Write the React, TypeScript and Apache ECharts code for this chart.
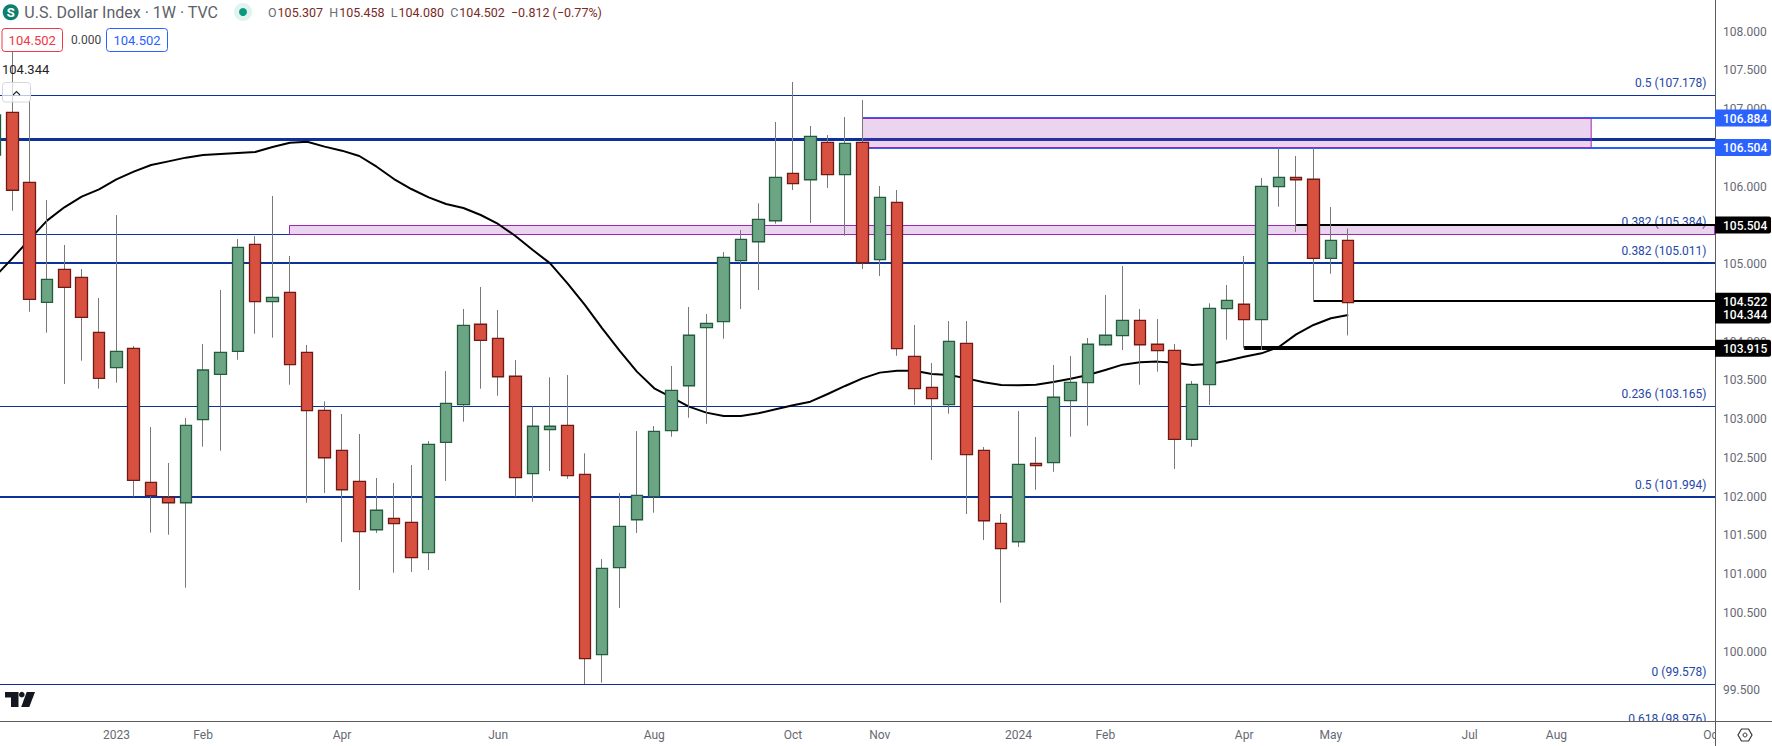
import React, { useEffect, useRef } from "react";
import * as echarts from "echarts";

const FONT = "Roboto, sans-serif";

// weekly candles, first one is only partly on screen
const opens = [106.408,106.959,106.056,104.507,104.933,104.830,104.120,103.664,103.914,102.185,101.991,101.921,102.993,103.578,103.875,105.256,104.515,104.636,103.862,103.114,102.598,102.198,101.573,101.720,101.669,101.277,102.701,103.186,104.224,104.043,103.553,102.296,102.864,102.920,102.288,99.961,101.083,101.702,102.000,102.851,103.431,104.180,104.257,105.044,105.289,105.560,106.172,106.089,106.572,106.154,106.572,105.057,105.798,103.811,103.411,103.186,103.978,102.598,101.656,101.418,102.430,102.438,103.238,103.470,103.960,104.077,104.275,103.966,103.888,102.740,103.444,104.425,104.482,104.283,105.999,106.120,106.095,105.075,105.307];
const closes = [106.924,105.953,104.546,104.804,104.701,104.314,103.527,103.875,102.211,102.012,101.921,102.920,103.634,103.862,105.217,104.515,104.572,103.702,103.109,102.502,102.089,101.548,101.824,101.651,101.212,102.675,103.204,104.211,104.017,103.547,102.244,102.908,102.908,102.270,99.909,101.075,101.617,102.017,102.843,103.372,104.082,104.236,105.088,105.320,105.578,106.120,106.038,106.649,106.154,106.559,105.018,105.862,103.909,103.393,103.264,104.004,102.541,101.689,101.328,102.417,102.399,103.282,103.475,103.966,104.082,104.275,103.960,103.883,102.740,103.449,104.430,104.533,104.283,106.004,106.120,106.089,105.075,105.307,104.502];
const lows = [106.279,105.689,104.386,104.115,103.453,103.754,103.393,103.470,102.000,101.535,101.509,100.825,102.644,102.593,103.767,104.102,104.051,103.444,101.921,102.047,101.415,100.795,101.531,101.018,101.028,101.053,102.202,102.967,103.393,103.302,102.000,101.935,102.331,102.231,99.582,99.599,100.563,101.531,101.793,102.773,103.018,102.941,104.038,104.421,104.666,105.522,105.956,105.531,105.982,105.367,104.937,104.847,103.818,103.182,102.473,103.070,101.776,101.440,100.631,101.350,102.089,102.321,102.773,102.915,103.944,103.892,103.444,103.612,102.357,102.644,103.182,104.025,103.914,103.892,105.741,105.415,104.528,104.876,104.080];
const highs = [107.118,107.741,107.118,105.827,105.247,104.937,104.563,105.634,103.944,102.898,102.434,103.015,103.969,104.666,105.324,105.363,105.879,105.105,103.957,103.230,103.066,102.808,102.240,102.176,102.408,102.718,103.621,104.421,104.705,104.408,103.763,103.166,103.540,103.569,102.559,101.195,102.047,102.847,102.911,103.686,104.447,104.356,105.156,105.440,105.785,106.834,107.350,106.782,106.666,106.898,107.118,106.008,105.956,104.215,103.724,104.266,104.266,102.640,101.776,103.105,102.769,103.698,103.815,104.047,104.602,104.976,104.421,104.292,103.969,103.492,104.494,104.731,105.105,106.111,106.498,106.395,106.498,105.737,105.458];
const movingAverage = [104.838,105.075,105.320,105.561,105.733,105.870,105.965,106.094,106.193,106.279,106.326,106.374,106.408,106.421,106.434,106.447,106.511,106.567,106.580,106.516,106.464,106.395,106.257,106.098,105.969,105.862,105.776,105.724,105.634,105.518,105.363,105.182,105.010,104.752,104.473,104.171,103.883,103.613,103.398,103.281,103.161,103.084,103.041,103.041,103.075,103.127,103.178,103.225,103.324,103.428,103.526,103.600,103.625,103.625,103.582,103.570,103.526,103.475,103.441,103.436,103.445,103.479,103.522,103.570,103.634,103.703,103.733,103.742,103.728,103.698,103.711,103.754,103.806,103.849,103.931,104.094,104.215,104.301,104.344];

// position on the weekly axis of each time label
const timeTicks = [6, 11, 19, 28, 37, 45, 50, 58, 63, 71, 76, 84, 89, 98];
const timeLabels = ["2023", "Feb", "Apr", "Jun", "Aug", "Oct", "Nov", "2024", "Feb", "Apr", "May", "Jul", "Aug", "Oct"];
const priceTicks = [99.5,100,100.5,101,101.5,102,102.5,103,103.5,104,104.5,105,105.5,106,106.5,107,107.5,108];

const fibPrices = [107.178, 106.611, 105.384, 105.011, 103.165, 101.994, 99.578];
const fibWidths = [1, 3, 1, 2, 1, 2, 1];
const fibLabels = ["0.5 (107.178)", "0.382 (105.384)", "0.382 (105.011)", "0.236 (103.165)", "0.5 (101.994)", "0 (99.578)", "0.618 (98.976)"];
const fibLabelPrices = [107.178, 105.384, 105.011, 103.165, 101.994, 99.578, 98.976];

const bluePrices = [106.884, 106.504];
const blueStart = 49;
const blackPrices = [105.504, 104.522, 103.915];
const blackStarts = [74, 75, 71];
const blackWidths = [2, 2, 4];
const zoneTop = [106.884, 105.504];
const zoneBottom = [106.504, 105.384];
const zoneStart = [49, 16];
const zoneEnd = [91, 98.14];

const tagPrices = [106.884, 106.504, 105.504, 104.522, 104.344, 103.915];
const tagColors = ["#2962ff", "#2962ff", "#000000", "#000000", "#000000", "#000000"];

const X_MIN = -0.709;
const X_MAX = 98.14;
const Y_MIN = 99.105;
const Y_MAX = 108.408;
const FIB_COLOR = "#0c3299";

const headerPairs = [["O", "105.307"], ["H", "105.458"], ["L", "104.080"], ["C", "104.502"]];
const headerChange = "\u22120.812 (\u22120.77%)";

const snap = (y: number, w: number) => Math.round(y - w / 2) + w / 2;

export default function App() {
  const ref = useRef<HTMLDivElement>(null);
  useEffect(() => {
    const chart = echarts.init(ref.current!, null, { renderer: "svg" });
    const xs = opens.map((_, i) => i - 1);
    const wickData = xs.map((x, i) => [x, opens[i], closes[i], lows[i], highs[i]]);
    const bodyData = xs.map((x, i) => [x, opens[i], closes[i], Math.min(opens[i], closes[i]), Math.max(opens[i], closes[i])]);

    const fibLines = fibPrices.map((p, i) => [X_MIN, X_MAX, p, fibWidths[i]]);
    const blueLines = bluePrices.map((p) => [blueStart, X_MAX, p, 2]);
    const blackLines = blackPrices.map((p, i) => [blackStarts[i], X_MAX, p, blackWidths[i]]);

    const renderHLine = (color: string) => (_: any, api: any) => {
      const a = api.coord([api.value(0), api.value(2)]);
      const b = api.coord([api.value(1), api.value(2)]);
      const w = api.value(3);
      const y = snap(a[1], w);
      return {
        type: "line",
        shape: { x1: a[0], y1: y, x2: b[0], y2: y },
        style: { stroke: color, lineWidth: w, lineCap: "butt" },
      };
    };

    const head = (x: number, y: number, text: string, fill: string, size = 13, extra: any = {}) => ({
      type: "text", x, y, z: 20,
      style: { text, fill, font: `${extra.weight || 400} ${size}px ${FONT}`, verticalAlign: "middle", align: extra.align || "left" },
    });

    const ohlcRich: any = {
      g: { fill: "#6a6d78", font: `400 12.5px ${FONT}`, padding: [0, 1, 0, 0] },
      v: { fill: "#7a2a26", font: `400 12.5px ${FONT}` },
    };
    const ohlcText = headerPairs.map(([k, v]) => `{g|${k}}{v|${v}}`).join("  ") + `  {v|${headerChange}}`;

    chart.setOption({
      animation: false,
      backgroundColor: "#ffffff",
      grid: { left: 0, right: 57, top: 0, bottom: 25, containLabel: false },
      xAxis: {
        type: "value", min: X_MIN, max: X_MAX, z: 10,
        splitLine: { show: false },
        axisLine: { show: true, onZero: false, lineStyle: { color: "#5d5d5d", width: 1 } },
        axisTick: { show: false },
        axisLabel: {
          customValues: timeTicks,
          margin: 8,
          formatter: (v: number) => timeLabels[timeTicks.indexOf(v)] ?? "",
          color: (v: any) => (v === 6 || v === 58 ? "#3c3f48" : "#666973"),
          fontFamily: FONT, fontSize: 12,
        },
      },
      yAxis: {
        type: "value", min: Y_MIN, max: Y_MAX, position: "right", z: 10,
        splitLine: { show: false },
        axisLine: { show: true, onZero: false, lineStyle: { color: "#5d5d5d", width: 1 } },
        axisTick: { show: false },
        axisLabel: {
          customValues: priceTicks, margin: 8, color: "#666973", fontFamily: FONT, fontSize: 12,
          formatter: (v: number) => v.toFixed(3),
        },
      },
      series: [
        {
          type: "custom", name: "fib levels", z: 2, encode: { x: 0, y: 2 },
          data: fibLines, renderItem: renderHLine(FIB_COLOR), silent: true,
        },
        {
          type: "custom", name: "fib labels", z: 2, encode: { y: 0 }, silent: true,
          data: fibLabelPrices.map((p) => [p]),
          renderItem: (params: any, api: any) => {
            const c = api.coord([X_MAX, api.value(0)]);
            return {
              type: "text", x: c[0] - 8.5, y: c[1] - 12,
              style: { text: fibLabels[params.dataIndex], fill: "#2447a8", font: `400 12px ${FONT}`, align: "right", verticalAlign: "middle" },
            };
          },
        },
        {
          type: "custom", name: "blue lines", z: 3, encode: { x: 0, y: 2 },
          data: blueLines, renderItem: renderHLine("#2962ff"), silent: true,
        },
        {
          type: "custom", name: "zones", z: 4, silent: true, encode: { x: 0, y: 2 },
          data: zoneTop.map((t, i) => [zoneStart[i], zoneEnd[i], t, zoneBottom[i]]),
          renderItem: (_: any, api: any) => {
            const a = api.coord([api.value(0), api.value(2)]);
            const b = api.coord([api.value(1), api.value(3)]);
            const y1 = snap(a[1], 1);
            const y2 = snap(b[1], 1);
            return {
              type: "rect",
              shape: { x: snap(a[0], 1), y: y1, width: b[0] - a[0], height: y2 - y1 },
              style: { fill: "rgba(156,39,176,0.2)", stroke: "#9c27b0", lineWidth: 1 },
            };
          },
        },
        {
          type: "line", name: "MA", z: 5, showSymbol: false, silent: true,
          data: movingAverage.map((v, i) => [xs[i], v]),
          lineStyle: { color: "#000000", width: 2, join: "round" },
        },
        {
          type: "custom", name: "black lines", z: 5, encode: { x: 0, y: 2 },
          data: blackLines, renderItem: renderHLine("#000000"), silent: true,
        },
        {
          type: "candlestick", name: "wicks", z: 6, barWidth: 1, silent: true, data: wickData,
          itemStyle: { color: "#787878", color0: "#787878", borderColor: "#787878", borderColor0: "#787878", borderWidth: 1 },
        },
        {
          type: "candlestick", name: "USD", z: 7, barWidth: 12, silent: true, data: bodyData,
          itemStyle: { color: "#6ba583", color0: "#d85140", borderColor: "#225b3d", borderColor0: "#6f1a14", borderWidth: 1.3 },
        },
        {
          type: "custom", name: "tags", z: 15, silent: true, encode: { y: 0 },
          data: tagPrices.map((p) => [p]),
          renderItem: (params: any, api: any) => {
            const c = api.coord([X_MAX, api.value(0)]);
            return {
              type: "group",
              children: [
                { type: "rect", shape: { x: c[0], y: c[1] - 8.5, width: 56, height: 17, r: [0, 2, 2, 0] }, style: { fill: tagColors[params.dataIndex] } },
                { type: "text", x: c[0] + 8, y: c[1] + 0.5, style: { text: api.value(0).toFixed(3), fill: "#ffffff", font: `500 12px ${FONT}`, verticalAlign: "middle" } },
              ],
            };
          },
        },
      ],
      graphic: {
        elements: [
          { type: "rect", z: 8, shape: { x: 0, y: 722, width: 1772, height: 24 }, style: { fill: "#ffffff" } },
          { type: "rect", z: 12, shape: { x: 1716, y: 722, width: 56, height: 24 }, style: { fill: "#ffffff" } },
          { type: "line", z: 13, shape: { x1: 1715.5, y1: 720, x2: 1715.5, y2: 746 }, style: { stroke: "#5d5d5d", lineWidth: 1 } },
          { type: "line", z: 13, shape: { x1: 1715, y1: 721.5, x2: 1772, y2: 721.5 }, style: { stroke: "#5d5d5d", lineWidth: 1 } },
          { type: "polygon", z: 13, shape: { points: [[1738, 735], [1741.5, 729], [1748.5, 729], [1752, 735], [1748.5, 741], [1741.5, 741]] }, style: { fill: "none", stroke: "#33363f", lineWidth: 1.2 } },
          { type: "circle", z: 13, shape: { cx: 1745, cy: 735, r: 2 }, style: { fill: "none", stroke: "#33363f", lineWidth: 1 } },

          { type: "polygon", z: 13, shape: { points: [[5, 692], [18.5, 692], [18.5, 707], [11, 707], [11, 697.5], [5, 697.5]] }, style: { fill: "#131722" } },
          { type: "circle", z: 13, shape: { cx: 21.8, cy: 694.7, r: 2.8 }, style: { fill: "#131722" } },
          { type: "polygon", z: 13, shape: { points: [[26.7, 692], [35, 692], [29.3, 707], [21.2, 707]] }, style: { fill: "#131722" } },

          { type: "circle", z: 20, shape: { cx: 10.7, cy: 12.3, r: 8 }, style: { fill: "#0e7f6e" } },
          head(10.7, 12.5, "S", "#ffffff", 13, { weight: 700, align: "center" }),
          head(24.3, 12.5, "U.S. Dollar Index \u00b7 1W \u00b7 TVC", "#5c5f68", 16),
          { type: "circle", z: 20, shape: { cx: 243, cy: 12, r: 9 }, style: { fill: "#e0f3ef" } },
          { type: "circle", z: 20, shape: { cx: 243, cy: 12, r: 4 }, style: { fill: "#089981" } },
          {
            type: "text", x: 268, y: 12.5, z: 20,
            style: { text: ohlcText, rich: ohlcRich, font: `400 12.5px ${FONT}`, verticalAlign: "middle" },
          },

          { type: "rect", z: 20, shape: { x: 2, y: 28.5, width: 60.5, height: 23, r: 3 }, style: { fill: "#ffffff", stroke: "#f23645", lineWidth: 1 } },
          head(32.2, 40.5, "104.502", "#f23645", 13, { align: "center" }),
          head(71, 40, "0.000", "#444444", 12),
          { type: "rect", z: 20, shape: { x: 106.5, y: 28.5, width: 61, height: 23, r: 3 }, style: { fill: "#ffffff", stroke: "#2962ff", lineWidth: 1 } },
          head(137, 40.5, "104.502", "#2962ff", 13, { align: "center" }),
          head(2, 69, "104.344", "#222222", 13),
          { type: "rect", z: 20, shape: { x: 2.5, y: 82.5, width: 28, height: 19.5, r: 3 }, style: { fill: "rgba(255,255,255,0.72)", stroke: "#d6d6e0", lineWidth: 1 } },
          { type: "polyline", z: 20, shape: { points: [[13, 95], [16.5, 91.5], [20, 95]] }, style: { fill: "none", stroke: "#222222", lineWidth: 1.1 } },
        ],
      },
    });
    return () => chart.dispose();
  }, []);
  return <div ref={ref} style={{ position: "fixed", left: 0, top: 0, width: 1772, height: 746 }} />;
}
